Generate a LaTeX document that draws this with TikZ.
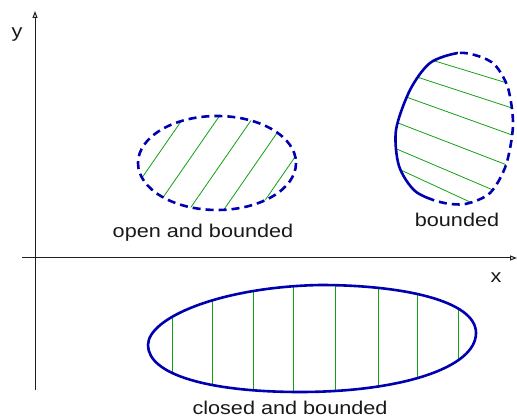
\documentclass[tikz,border=0pt]{standalone}
\usepackage{fontspec}
\setmainfont{Liberation Sans}
\usetikzlibrary{arrows.meta,calc}
\definecolor{setcolor}{RGB}{0, 0, 175}
\definecolor{hatchcolor}{RGB}{20, 160, 20}
\definecolor{axiscolor}{RGB}{30, 30, 30}
\definecolor{labelcolor}{RGB}{25, 25, 25}
\tikzset{
setline/.style={
  draw=setcolor,
  line width=2.6pt
},
opensetline/.style={
  setline,
  dash pattern=on 8pt off 5pt
},
hatchline/.style={
  draw=hatchcolor,
  line width=0.8pt
},
axisline/.style={
  draw=axiscolor,
  line width=1pt,
  -{Triangle[open,length=7pt,width=5pt]}
},
setlabel/.style={
  font=\fontsize{18.5}{22}\selectfont,
  text=labelcolor,
  xscale=1.17,
  anchor=base,
  inner sep=0pt
}
}
\def\boundedset{plot[smooth cycle] coordinates {(458,53) (430,63) (410,90) (396,130) (399,166) (415,191) (440,202) (465,204) (490,193) (506,165) (513,125) (508,88) (495,65) (478,56)}}
\def\closedset{(148,345) .. controls (148,318) and (220,287) .. (320,285) .. controls (400,285) and (476,300) .. (476,333) .. controls (476,368) and (400,392) .. (300,392) .. controls (210,392) and (148,375) .. cycle}
\begin{document}
\begin{tikzpicture}[x=1pt,y=-1pt]
  \useasboundingbox (0,0) rectangle (517,419);

  % axes
  \coordinate (xstart) at (22,258);
  \coordinate (xend) at (517,258);
  \coordinate (ystart) at (35,390);
  \coordinate (yend) at (35,11);
  \draw[axisline] (xstart) -- (xend);
  \draw[axisline] (ystart) -- (yend);
  \node[setlabel] (xlabel) at (496,283) {x};
  \node[setlabel] (ylabel) at (17,38) {y};

  % open and bounded
  \begin{scope}
    \clip (217,163) ellipse [x radius=79, y radius=47];
    \foreach \d in {218,246.5,275,303.5,332}
      \draw[hatchline] ($(0,0)+(\d*0.822,\d*0.569)+(-36*3,52*3)$) -- ++(36*6,-52*6);
  \end{scope}
  \draw[opensetline] (217,163) ellipse [x radius=79, y radius=47];
  \node[setlabel] (openlabel) at (203,238) {open and bounded};

  % bounded: left part closed, right part open
  \begin{scope}
    \clip \boundedset;
    \foreach \a/\b in {{438,62}/{507,83}, {420,78}/{512,108}, {409,98}/{512,135}, {398,123}/{507,165}, {399,150}/{493,190}, {405,172}/{470,202}}
      \draw[hatchline] ($(\a)!-8pt!(\b)$) -- ($(\b)!-8pt!(\a)$);
  \end{scope}
  \begin{scope}
    \clip (468,0) -- (370,0) -- (370,230) -- (424,230) -- cycle;
    \draw[setline] \boundedset;
  \end{scope}
  \begin{scope}
    \clip (468,0) -- (517,0) -- (517,230) -- (424,230) -- cycle;
    \draw[opensetline] \boundedset;
  \end{scope}
  \node[setlabel] (boundedlabel) at (457,227) {bounded};

  % closed and bounded
  \begin{scope}
    \clip \closedset;
    \foreach \x in {172,212,253,293,335,378,417,458}
      \draw[hatchline] (\x,270) -- (\x,410);
  \end{scope}
  \draw[setline] \closedset;
  \node[setlabel] (closedlabel) at (290,415) {closed and bounded};
\end{tikzpicture}
\end{document}
